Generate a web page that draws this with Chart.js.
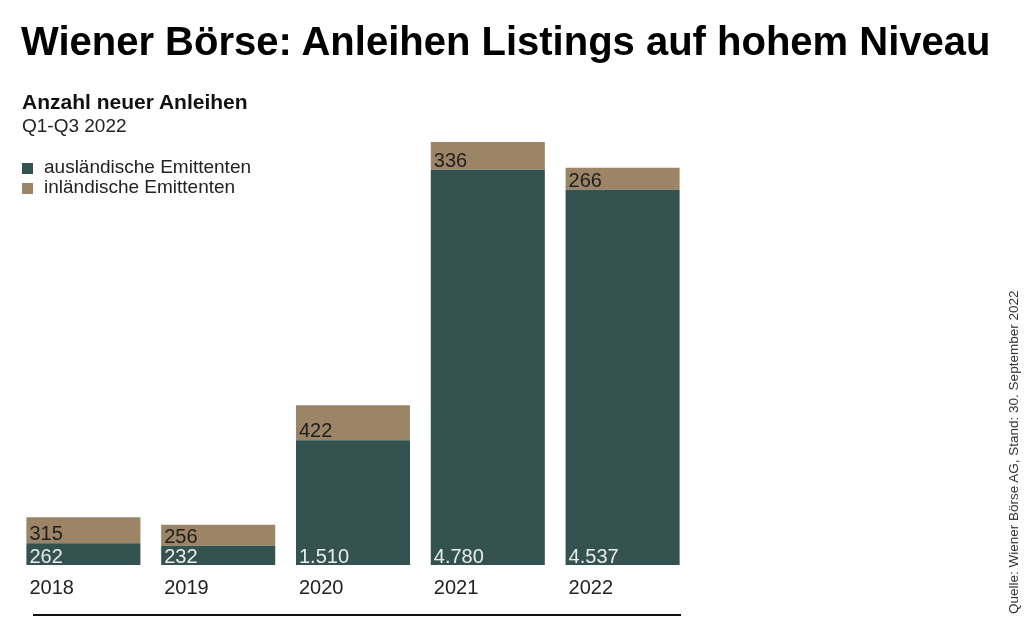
<!DOCTYPE html>
<html lang="de">
<head>
<meta charset="utf-8">
<script src="https://cdn.jsdelivr.net/npm/chart.js@4.4.0/dist/chart.umd.min.js"></script>
<style>
  html, body { margin: 0; padding: 0; background: #fff; }
  body { width: 1024px; height: 642px; position: relative; overflow: hidden;
         font-family: "Liberation Sans", Arial, Helvetica, sans-serif; }
  #c { position: absolute; left: 0; top: 0; }
  .t { position: absolute; white-space: nowrap; line-height: 1; color: #111; }
  #title { left: 21px; top: 21px; font-size: 40px; font-weight: bold; color: #000; }
  #sub1 { left: 22px; top: 91px; font-size: 21px; font-weight: bold; }
  #sub2 { left: 22px; top: 116px; font-size: 19px; color: #222; }
  .leg { position: absolute; left: 22px; font-size: 19px; line-height: 1; color: #222; white-space: nowrap; }
  .leg .sw { position: absolute; left: 0; width: 11px; height: 11px; }
  .leg .lt { position: absolute; left: 22px; top: 0; }
  #src { left: 1007px; top: 614px; font-size: 13.5px; color: #333;
         transform-origin: 0 0; transform: rotate(-90deg); }
</style>
</head>
<body>
<canvas id="c" width="1024" height="642"></canvas>
<div class="t" id="title">Wiener Börse: Anleihen Listings auf hohem Niveau</div>
<div class="t" id="sub1">Anzahl neuer Anleihen</div>
<div class="t" id="sub2">Q1-Q3 2022</div>
<div id="legend"></div>
<div class="t" id="src">Quelle: Wiener Börse AG, Stand: 30. September 2022</div>
<script>
// ---- data ----
const years = ["2018", "2019", "2020", "2021", "2022"];
const auslaendisch = [262, 232, 1510, 4780, 4537];
const inlaendisch = [315, 256, 422, 336, 266];
const seriesNames = ["ausländische Emittenten", "inländische Emittenten"];
const seriesColors = ["#34524f", "#9c8566"];
const labelColors = ["#e8ecea", "#1e1e1e"];

const FONT = '"Liberation Sans", Arial, Helvetica, sans-serif';

function fmt(v) {
  return String(v).replace(/\B(?=(\d{3})+(?!\d))/g, ".");
}

// HTML legend built from series
const legend = document.getElementById("legend");
seriesNames.forEach((name, i) => {
  const row = document.createElement("div");
  row.className = "leg";
  row.style.top = (157 + i * 20) + "px";
  const sw = document.createElement("div");
  sw.className = "sw";
  sw.style.background = seriesColors[i];
  sw.style.top = "6px";
  const lt = document.createElement("div");
  lt.className = "lt";
  lt.textContent = name;
  row.appendChild(sw);
  row.appendChild(lt);
  legend.appendChild(row);
});

const valueLabels = {
  id: "valueLabels",
  afterDatasetsDraw(chart) {
    const ctx = chart.ctx;
    ctx.save();
    ctx.font = "20px " + FONT;
    ctx.textAlign = "left";
    ctx.textBaseline = "alphabetic";
    chart.data.datasets.forEach((ds, d) => {
      const meta = chart.getDatasetMeta(d);
      meta.data.forEach((bar, i) => {
        const p = bar.getProps(["x", "y", "base", "width"], true);
        ctx.fillStyle = labelColors[d];
        ctx.fillText(fmt(ds.data[i]), p.x - p.width / 2 + 3, p.base - (d === 0 ? 2 : 3));
      });
    });
    // bottom rule
    const a = chart.chartArea;
    ctx.strokeStyle = "#111";
    ctx.lineWidth = 2;
    ctx.beginPath();
    ctx.moveTo(a.left + 17, a.bottom + 50);
    ctx.lineTo(a.right - 9, a.bottom + 50);
    ctx.stroke();
    ctx.restore();
  }
};

new Chart(document.getElementById("c"), {
  type: "bar",
  data: {
    labels: years,
    datasets: [
      { label: seriesNames[0], data: auslaendisch, backgroundColor: seriesColors[0],
        categoryPercentage: 1, barPercentage: 0.846 },
      { label: seriesNames[1], data: inlaendisch, backgroundColor: seriesColors[1],
        categoryPercentage: 1, barPercentage: 0.846 }
    ]
  },
  options: {
    responsive: false,
    animation: false,
    devicePixelRatio: 1,
    layout: { padding: { left: 16, right: 334, top: 135, bottom: 31 } },
    plugins: { legend: { display: false }, tooltip: { enabled: false }, title: { display: false } },
    scales: {
      x: {
        stacked: true,
        grid: { display: false, drawTicks: false },
        border: { display: false },
        ticks: {
          align: "start",
          labelOffset: -54,
          padding: 11,
          color: "#222",
          font: { size: 20, family: FONT }
        }
      },
      y: { stacked: true, display: false, min: 0, max: 5200 }
    }
  },
  plugins: [valueLabels]
});
</script>
</body>
</html>
